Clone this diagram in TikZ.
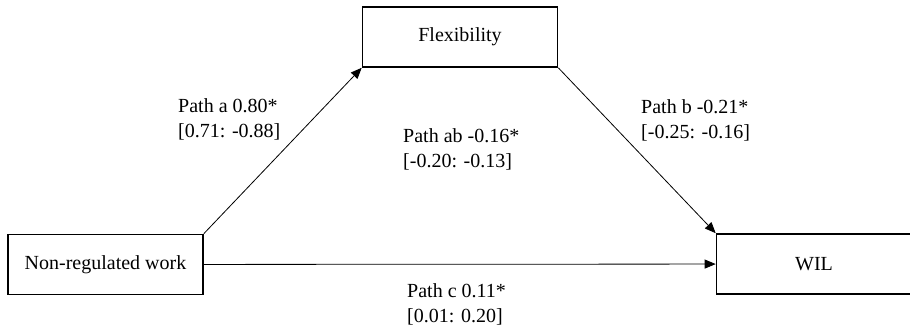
\documentclass[tikz,border=0pt]{standalone}
\usepackage{fontspec}
\setmainfont{Liberation Serif}
\usetikzlibrary{arrows.meta}
\newcommand{\labelsize}{\fontsize{20}{25}\selectfont}

\begin{document}
\begin{tikzpicture}[x=1pt,y=-1pt,
  var/.style={draw, line width=1.6pt, minimum width=195pt, minimum height=60pt,
    inner sep=0pt, font=\labelsize},
  eff/.style={anchor=base west, align=left, inner sep=0pt, font=\labelsize},
  link/.style={-{Triangle[length=11pt,width=9pt]}, line width=0.8pt}]

  \useasboundingbox (0,0) rectangle (910,336);

      %% the mediation triangle: X, M and Y
      \node (nrw) at (105.5,264.5) [var] {Non-regulated work};
      \node (flex) at (460,37) [var] {Flexibility};
      \node (wil) at (814,264) [var] {WIL};
      \draw[link] (nrw.north east) to (flex.south west);
      \draw[link] (flex.south east) to (wil.north west);
      \draw[link] (nrw) to (wil);

      %% path coefficients with their intervals (base = last line)
      \node (pa) at (178,138) [eff] {Path a 0.80*\\{[}0.71: -0.88{]}};
      \node (pb) at (641,139) [eff] {Path b -0.21*\\{[}-0.25: -0.16{]}};
      \node (pab) at (403,168) [eff] {Path ab -0.16*\\{[}-0.20: -0.13{]}};
      \node (pc) at (407,323) [eff] {Path c 0.11*\\{[}0.01: 0.20{]}};

\end{tikzpicture}
\end{document}
